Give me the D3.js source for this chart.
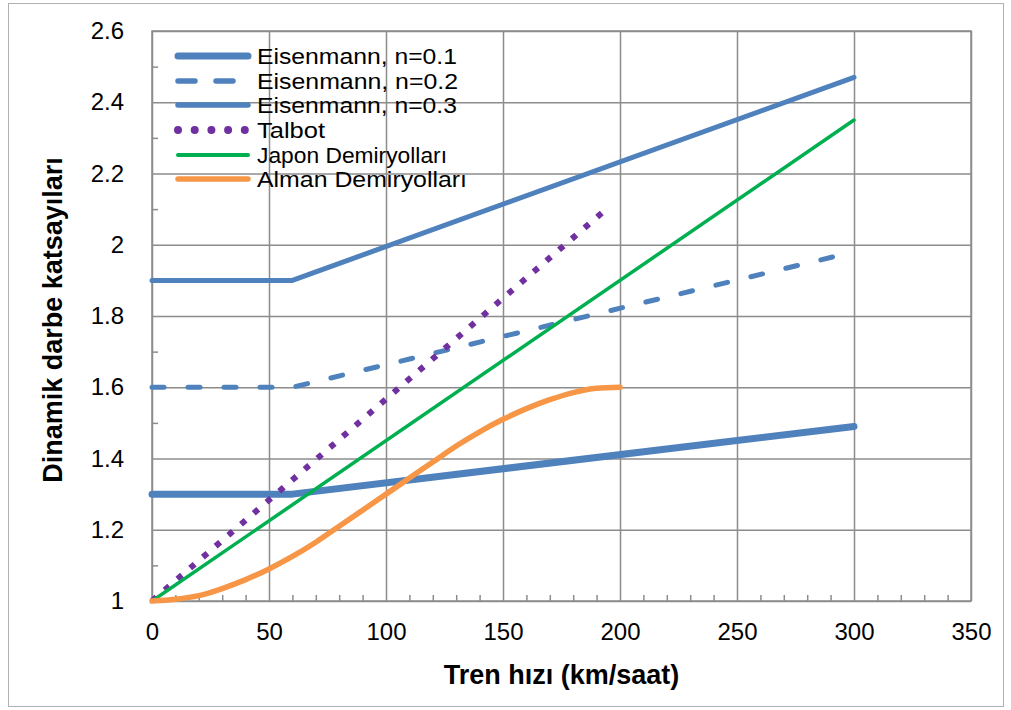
<!DOCTYPE html>
<html>
<head>
<meta charset="utf-8">
<script src="https://cdn.jsdelivr.net/npm/d3@7"></script>
<style>
  body { margin: 0; background: #fff; }
  text { font-family: "Liberation Sans", Arial, sans-serif; fill: #000; }
</style>
</head>
<body>
<div id="chart"></div>
<script>
// データ
var xTicks = [0, 50, 100, 150, 200, 250, 300, 350];
var yTicks = [1, 1.2, 1.4, 1.6, 1.8, 2, 2.2, 2.4, 2.6];

// Eisenmann (hız, katsayı)
var eisSpeed = [0, 60, 300];
var eis01 = [1.3, 1.3, 1.49];
var eis02 = [1.6, 1.6, 1.98];
var eis03 = [1.9, 1.9, 2.47];

var talbotSpeed = [0, 195];
var talbot = [1.0, 2.105];

var japonSpeed = [0, 300];
var japon = [1.0, 2.35];

var almanSpeed = [0, 10, 20, 30, 40, 50, 60, 70, 80, 90, 100, 110, 120, 130, 140, 150, 160, 170, 180, 190, 200];
var alman = [1.0, 1.005, 1.015, 1.035, 1.06, 1.09, 1.125, 1.165, 1.21, 1.255, 1.3, 1.345, 1.39, 1.435, 1.475, 1.51, 1.54, 1.565, 1.585, 1.597, 1.6];

var names = [
  "Eisenmann, n=0.1",
  "Eisenmann, n=0.2",
  "Eisenmann, n=0.3",
  "Talbot",
  " Japon Demiryolları",
  "Alman Demiryolları",
];

var width = 1011, height = 710;
var plot = { left: 152, right: 971, top: 31, bottom: 601 };

var svg = d3.select("#chart").append("svg")
  .attr("width", width)
  .attr("height", height);

// dış çerçeve
svg.append("rect")
  .attr("x", 8.5).attr("y", 3.5)
  .attr("width", 995).attr("height", 703)
  .attr("fill", "none")
  .attr("stroke", "#b0b0b0")
  .attr("stroke-width", 1);

var xScale = d3.scaleLinear().domain([0, 350]).range([plot.left, plot.right]);
var yScale = d3.scaleLinear().domain([1, 2.6]).range([plot.bottom, plot.top]);

var gridColor = "#8c8c8c";

// ızgara çizgileri
var gridX = svg.append("g")
  .attr("transform", "translate(0," + plot.bottom + ")")
  .call(d3.axisBottom(xScale).tickValues(xTicks).tickSize(-(plot.bottom - plot.top)).tickFormat(""));
var gridY = svg.append("g")
  .attr("transform", "translate(" + plot.left + ",0)")
  .call(d3.axisLeft(yScale).tickValues(yTicks).tickSize(-(plot.right - plot.left)).tickFormat(""));
[gridX, gridY].forEach(function (g) {
  g.select(".domain").remove();
  g.selectAll("line").attr("stroke", gridColor).attr("stroke-width", 1.5);
});

// küçük işaretler (içe doğru)
var minorX = d3.range(0, 351, 10).filter(function (v) { return v % 50 !== 0; });
var minorY = [1.1, 1.3, 1.5, 1.7, 1.9, 2.1, 2.3, 2.5];
svg.append("g")
  .attr("transform", "translate(0," + plot.bottom + ")")
  .call(d3.axisBottom(xScale).tickValues(minorX).tickSize(-6).tickFormat(""))
  .call(function (g) { g.select(".domain").remove(); })
  .selectAll("line").attr("stroke", gridColor).attr("stroke-width", 1.5);
svg.append("g")
  .attr("transform", "translate(" + plot.left + ",0)")
  .call(d3.axisLeft(yScale).tickValues(minorY).tickSize(-6).tickFormat(""))
  .call(function (g) { g.select(".domain").remove(); })
  .selectAll("line").attr("stroke", gridColor).attr("stroke-width", 1.5);

// çerçeve
svg.append("rect")
  .attr("x", plot.left).attr("y", plot.top)
  .attr("width", plot.right - plot.left).attr("height", plot.bottom - plot.top)
  .attr("fill", "none").attr("stroke", gridColor).attr("stroke-width", 1.5);

// eksen etiketleri
var xAxis = svg.append("g")
  .attr("transform", "translate(0," + plot.bottom + ")")
  .call(d3.axisBottom(xScale).tickValues(xTicks).tickSize(0).tickPadding(31));
var yAxis = svg.append("g")
  .attr("transform", "translate(" + plot.left + ",0)")
  .call(d3.axisLeft(yScale).tickValues(yTicks).tickSize(0).tickPadding(28)
    .tickFormat(function (d) { return String(+d.toFixed(1)); }));
[xAxis, yAxis].forEach(function (g) {
  g.select(".domain").remove();
  g.selectAll("text")
    .style("font-family", "'Liberation Sans', Arial, sans-serif")
    .style("font-size", "24px")
    .attr("fill", "#111");
});
xAxis.selectAll("text").attr("dy", "0.35em");

svg.append("text")
  .attr("x", (plot.left + plot.right) / 2)
  .attr("y", 684)
  .attr("text-anchor", "middle")
  .style("font-size", "27px")
  .style("font-weight", "bold")
  .text("Tren hızı (km/saat)");

svg.append("text")
  .attr("transform", "translate(62,320) rotate(-90)")
  .attr("text-anchor", "middle")
  .style("font-size", "27px")
  .style("font-weight", "bold")
  .text("Dinamik darbe katsayıları");

// seriler
function toPoints(xs, ys) {
  return xs.map(function (x, i) { return [x, ys[i]]; });
}

var series = [
  { name: names[0], pts: toPoints(eisSpeed, eis01), color: "#4f81bd", w: 7, dash: null, curve: d3.curveLinear },
  { name: names[1], pts: toPoints(eisSpeed, eis02), color: "#4f81bd", w: 5, dash: "12,24", cap: "round", curve: d3.curveLinear },
  { name: names[2], pts: toPoints(eisSpeed, eis03), color: "#4f81bd", w: 5, dash: null, curve: d3.curveLinear },
  { name: names[3], pts: toPoints(talbotSpeed, talbot), color: "#7030a0", w: 6, dash: "6,10.8", cap: "butt", curve: d3.curveLinear },
  { name: names[4], pts: toPoints(japonSpeed, japon), color: "#00b050", w: 3.5, dash: null, curve: d3.curveLinear },
  { name: names[5], pts: toPoints(almanSpeed, alman), color: "#f79646", w: 5.5, dash: null, curve: d3.curveMonotoneX },
];

series.forEach(function (s) {
  var line = d3.line()
    .x(function (d) { return xScale(d[0]); })
    .y(function (d) { return yScale(d[1]); })
    .curve(s.curve);
  svg.append("path")
    .datum(s.pts)
    .attr("d", line)
    .attr("fill", "none")
    .attr("stroke", s.color)
    .attr("stroke-width", s.w)
    .attr("stroke-dasharray", s.dash)
    .attr("stroke-linecap", s.cap || "round")
    .attr("stroke-linejoin", "round");
});

// lejant
var legendRowY = [56, 81, 105, 130, 155, 179];
var legendTextLen = [200, 201, 200, 68, 190, 210];
var legend = svg.append("g");
series.forEach(function (s, i) {
  var y = legendRowY[i];
  legend.append("line")
    .attr("x1", 178).attr("x2", 248)
    .attr("y1", y).attr("y2", y)
    .attr("stroke", s.color)
    .attr("stroke-width", i === 0 ? 7 : (i === 3 ? 8 : (i === 4 ? 4 : 5.5)))
    .attr("stroke-dasharray", i === 1 ? "17,21" : (i === 3 ? "0,16.7" : null))
    .attr("stroke-linecap", "round");
  legend.append("text")
    .attr("x", 257)
    .attr("y", y + 8)
    .attr("textLength", legendTextLen[i])
    .attr("lengthAdjust", "spacingAndGlyphs")
    .style("font-size", "22px")
    .text(s.name);
});
</script>
</body>
</html>
